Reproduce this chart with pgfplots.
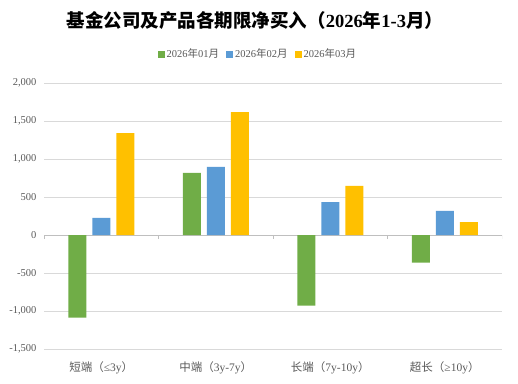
\documentclass[border=0pt]{standalone}
\usepackage{fontspec}
\setmainfont{Liberation Serif}
\newfontfamily\cjk{Noto Sans CJK SC}
\usepackage{pgfplots}
\pgfplotsset{compat=1.18}
\definecolor{cgreen}{HTML}{70AD47}
\definecolor{cblue}{HTML}{5B9BD5}
\definecolor{cyellow}{HTML}{FFC000}
\definecolor{txtgray}{HTML}{595959}
\definecolor{gridgray}{HTML}{D9D9D9}
\definecolor{zerogray}{HTML}{BFBFBF}
\newcommand{\C}[1]{{\cjk #1}}
\begin{document}
\begin{tikzpicture}[x=1pt,y=1pt]
\path (0,0) rectangle (518,383);
\node[font=\fontsize{18.5}{21}\selectfont\bfseries, text=black] at (255,362)
  {\C{基金公司及产品各期限净买入（}2026\C{年}1-3\C{月）}};
\begin{axis}[
  at={(44pt,34pt)}, anchor=south west,
  scale only axis, width=458pt, height=266pt,
  ymin=-1500, ymax=2000, xmin=-0.5, xmax=3.5,
  ybar, bar width=18pt,
  axis line style={draw=none},
  major tick length=0pt,
  ytick={-1500,-1000,...,2000},
  ymajorgrids, grid style={draw=gridgray, line width=0.8pt},
  xtick={0,1,2,3},
  xticklabels={{\C{短端（}≤3y\C{）}},{\C{中端（}3y-7y\C{）}},{\C{长端（}7y-10y\C{）}},{\C{超长（}≥10y\C{）}}},
  xticklabel style={font=\fontsize{11.5}{13}\selectfont, text=txtgray, yshift=-9pt},
  yticklabel style={font=\fontsize{10.5}{12}\selectfont, text=txtgray, xshift=-4pt},
  /pgf/number format/.cd, 1000 sep={,}, assume math mode=true,
  /pgfplots/.cd,
  legend style={at={(0.467,1.109)}, anchor=center, draw=none, fill=none,
    legend columns=3, font=\fontsize{10.5}{12}\selectfont, text=txtgray,
    /tikz/every even column/.append style={column sep=5pt}},
  legend image code/.code={\fill[#1] (0pt,-3.5pt) rectangle (7pt,3.5pt);},
]
\draw[zerogray, line width=0.8pt] (axis cs:-0.5,0) -- (axis cs:3.5,0);
\pgfplotsinvokeforeach{-0.5,0.5,1.5,2.5,3.5}{
  \draw[zerogray, line width=0.8pt] (axis cs:#1,0) -- (axis cs:#1,-53);
}
\addplot[fill=cgreen, draw=none, bar shift=-24pt] coordinates {(0,-1088) (1,816) (2,-930) (3,-364)};
\addplot[fill=cblue, draw=none, bar shift=0pt] coordinates {(0,224) (1,895) (2,434) (3,316)};
\addplot[fill=cyellow, draw=none, bar shift=24pt] coordinates {(0,1342) (1,1618) (2,645) (3,171)};
\legend{2026\C{年}01\C{月}, 2026\C{年}02\C{月}, 2026\C{年}03\C{月}}
\end{axis}
\end{tikzpicture}
\end{document}
